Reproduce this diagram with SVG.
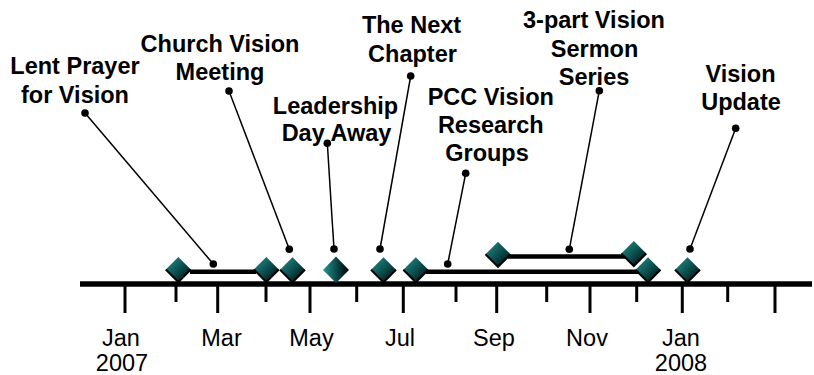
<svg xmlns="http://www.w3.org/2000/svg" width="814" height="375" viewBox="0 0 814 375">
<defs>
<linearGradient id="dg" x1="0" y1="0" x2="1" y2="1">
<stop offset="0" stop-color="#2a9090"/>
<stop offset="0.5" stop-color="#0c5050"/>
<stop offset="1" stop-color="#000000"/>
</linearGradient>
<linearGradient id="dg2" x1="0" y1="0" x2="1" y2="0">
<stop offset="0" stop-color="#2a9595"/>
<stop offset="0.55" stop-color="#0a4545"/>
<stop offset="1" stop-color="#000000"/>
</linearGradient>
<symbol id="dia" overflow="visible"><polygon points="0,-12.5 12.5,0 0,12.5 -12.5,0" fill="url(#dg)"/><polyline points="12.5,0 0,12.5 -12.5,0" fill="none" stroke="#000" stroke-width="2"/></symbol>
</defs>
<style>
.lbl{font-family:"Liberation Sans",Arial,sans-serif;font-weight:bold;font-size:23.5px;fill:#000;text-anchor:middle}
.ax{font-family:"Liberation Sans",Arial,sans-serif;font-size:23.5px;fill:#000;text-anchor:middle}
.bar{stroke:#000;stroke-width:4.5;fill:none}
.con{stroke:#000;stroke-width:1.5;fill:none}
.dot{fill:#000}
.tick{stroke:#000;stroke-width:3}
</style>
<rect width="814" height="375" fill="#fff"/>
<g id="axis">
<line x1="80" y1="284" x2="812" y2="284" stroke="#000" stroke-width="5.5"/>
<g class="tick">
<line x1="125" y1="286" x2="125" y2="313"/>
<line x1="176" y1="286" x2="176" y2="302"/>
<line x1="217.7" y1="286" x2="217.7" y2="313"/>
<line x1="266" y1="286" x2="266" y2="302"/>
<line x1="310" y1="286" x2="310" y2="313"/>
<line x1="356.7" y1="286" x2="356.7" y2="302"/>
<line x1="403.3" y1="286" x2="403.3" y2="313"/>
<line x1="456" y1="286" x2="456" y2="302"/>
<line x1="496.7" y1="286" x2="496.7" y2="313"/>
<line x1="546.7" y1="286" x2="546.7" y2="302"/>
<line x1="590" y1="286" x2="590" y2="313"/>
<line x1="636.7" y1="286" x2="636.7" y2="302"/>
<line x1="682.3" y1="286" x2="682.3" y2="313"/>
<line x1="727.7" y1="286" x2="727.7" y2="302"/>
<line x1="775" y1="286" x2="775" y2="313"/>
</g>
<text class="ax" x="121" y="345.5">Jan</text>
<text class="ax" x="122" y="371">2007</text>
<text class="ax" x="221.5" y="345.5">Mar</text>
<text class="ax" x="311.5" y="345.5">May</text>
<text class="ax" x="400" y="345.5">Jul</text>
<text class="ax" x="494" y="345.5">Sep</text>
<text class="ax" x="587" y="345.5">Nov</text>
<text class="ax" x="681" y="345.5">Jan</text>
<text class="ax" x="681" y="371">2008</text>
</g>
<g id="connectors">
<line class="bar" x1="190" y1="271.7" x2="256" y2="271.7"/>
<line class="bar" x1="426" y1="271.8" x2="640" y2="271.8"/>
<line class="bar" x1="508" y1="256.5" x2="625" y2="256.5"/>
<line class="con" x1="85" y1="113" x2="213.3" y2="264"/>
<line class="con" x1="229" y1="91" x2="289.3" y2="249.3"/>
<line class="con" x1="327.3" y1="143.3" x2="334" y2="249"/>
<line class="con" x1="410.7" y1="76" x2="380" y2="249"/>
<line class="con" x1="465.7" y1="173.3" x2="447.7" y2="264"/>
<line class="con" x1="599.3" y1="90.7" x2="569.3" y2="249.3"/>
<line class="con" x1="735.7" y1="128.3" x2="690" y2="249"/>
<g class="dot">
<circle cx="85" cy="113" r="3.8"/><circle cx="213.3" cy="264" r="3.8"/>
<circle cx="229" cy="91" r="3.8"/><circle cx="289.3" cy="249.3" r="3.8"/>
<circle cx="327.3" cy="143.3" r="3.8"/><circle cx="334" cy="249" r="3.8"/>
<circle cx="410.7" cy="76" r="3.8"/><circle cx="380" cy="249" r="3.8"/>
<circle cx="465.7" cy="173.3" r="3.8"/><circle cx="447.7" cy="264" r="3.8"/>
<circle cx="599.3" cy="90.7" r="3.8"/><circle cx="569.3" cy="249.3" r="3.8"/>
<circle cx="735.7" cy="128.3" r="3.8"/><circle cx="690" cy="249" r="3.8"/>
</g>
</g>
<g id="lent">
<use href="#dia" x="178.3" y="269.5"/><use href="#dia" x="266.3" y="269.5"/>
<text class="lbl" x="75" y="74">Lent Prayer</text>
<text class="lbl" x="75" y="102.5">for Vision</text>
</g>
<g id="church">
<use href="#dia" x="292.5" y="269.8"/>
<text class="lbl" x="220" y="51.7">Church Vision</text>
<text class="lbl" x="220" y="80">Meeting</text>
</g>
<g id="leadership">
<polygon points="336,256.5 349,270 336,283 323,270" fill="url(#dg2)"/>
<text class="lbl" x="335.5" y="113.5">Leadership</text>
<text class="lbl" x="336.5" y="141">Day Away</text>
</g>
<g id="nextchapter">
<use href="#dia" x="383.5" y="269.8"/>
<text class="lbl" x="411.5" y="33.3">The Next</text>
<text class="lbl" x="412.5" y="61.7">Chapter</text>
</g>
<g id="pcc">
<use href="#dia" x="415.8" y="269.8"/><use href="#dia" x="648" y="269.8"/>
<text class="lbl" x="490.8" y="105">PCC Vision</text>
<text class="lbl" x="490.8" y="133.3">Research</text>
<text class="lbl" x="487" y="161">Groups</text>
</g>
<g id="sermon">
<use href="#dia" x="498" y="254.3"/><use href="#dia" x="633.8" y="253.5"/>
<text class="lbl" x="594" y="28.3">3-part Vision</text>
<text class="lbl" x="594.5" y="56.7">Sermon</text>
<text class="lbl" x="594" y="85">Series</text>
</g>
<g id="update">
<use href="#dia" x="687.5" y="269.8"/>
<text class="lbl" x="740.5" y="82">Vision</text>
<text class="lbl" x="741" y="110">Update</text>
</g>
</svg>
